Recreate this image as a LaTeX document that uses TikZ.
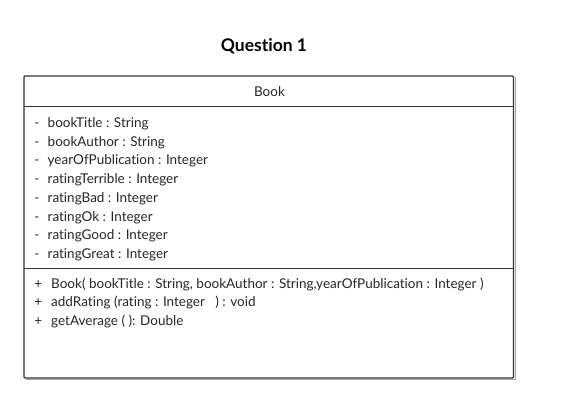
\documentclass[tikz,border=0pt]{standalone}
\usepackage{fontspec}
\setmainfont{Lato}[Ligatures=NoCommon]
\begin{document}
\begin{tikzpicture}[x=1pt,y=1pt,
  boxline/.style={draw=black!80, line width=1.3pt},
  sepline/.style={draw=black!80, line width=1pt},
  member/.style={anchor=base west, inner sep=0pt, font=\fontsize{13.5}{16}\selectfont, text=black!85},
  vis/.style={anchor=base, inner sep=0pt, font=\fontsize{13.5}{16}\selectfont, text=black!85}]
\useasboundingbox (0,0) rectangle (569,418);
\node[anchor=base, inner sep=0pt, font=\bfseries\fontsize{17.5}{20}\selectfont] (title) at (264,366.3) {Question 1};
\draw[draw=black!35, line width=1pt] (25.5,38.5) -- (515,38.5) -- (515,341);
\draw[boxline, rounded corners=1pt] (24,342) rectangle (513.5,40);
\coordinate (h1l) at (24,311.5); \coordinate (h1r) at (513.5,311.5);
\coordinate (h2l) at (24,149.7); \coordinate (h2r) at (513.5,149.7);
\draw[sepline] (h1l) -- (h1r);
\draw[sepline] (h2l) -- (h2r);
\node[anchor=base, inner sep=0pt, font=\fontsize{13.5}{16}\selectfont, text=black!85] (cls) at (269.5,321) {Book};
\foreach \t [count=\i] in {bookTitle : String, bookAuthor : String, yearOfPublication : Integer, ratingTerrible : Integer, ratingBad : Integer, ratingOk : Integer, ratingGood : Integer, ratingGreat : Integer} {
  \node[vis] (av\i) at (37,{290.7-(\i-1)*18.75}) {-};
  \node[member] (a\i) at (47.5,{290.7-(\i-1)*18.75}) {\t};
}
\node[vis] (mv1) at (38.3,129.7) {+};
\node[member] (m1) at (51,129.7) {Book( bookTitle : String, bookAuthor : String,yearOfPublication : Integer )};
\node[vis] (mv2) at (38.3,111.3) {+};
\node[member] (m2) at (51,111.3) {addRating (rating : Integer \ \ ) : void};
\node[vis] (mv3) at (38.3,93) {+};
\node[member] (m3) at (51,93) {getAverage ( ): Double};
\end{tikzpicture}
\end{document}
